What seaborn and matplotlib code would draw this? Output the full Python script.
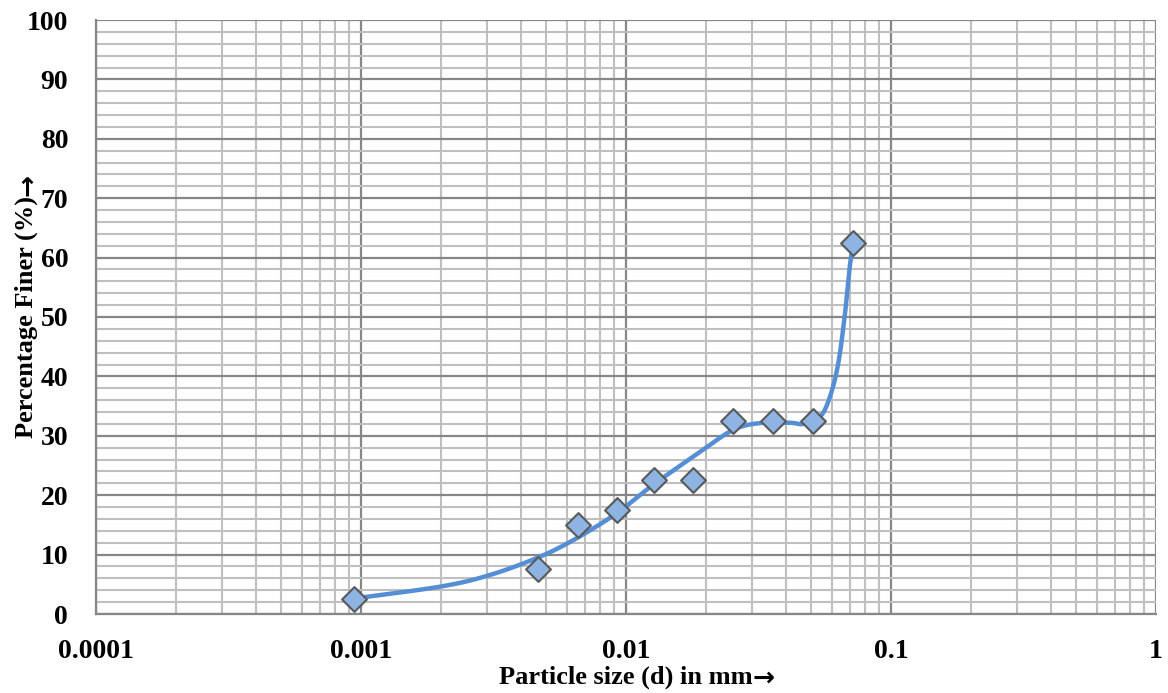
import numpy as np
import matplotlib
matplotlib.use("Agg")
import matplotlib.pyplot as plt
import seaborn as sns
import pandas as pd
from matplotlib.ticker import LogLocator, FixedLocator, FixedFormatter, MultipleLocator, NullFormatter

# ---- data ----
particle_size_mm = [0.00094, 0.00466, 0.00659, 0.00925, 0.01277, 0.0179, 0.0254, 0.0359, 0.0508, 0.0720]
percent_finer = [2.5, 7.5, 15.0, 17.5, 22.5, 22.5, 32.5, 32.5, 32.5, 62.5]

# smoothed gradation curve, points traced along the drawn curve of the reference
curve_size_mm = [0.000949, 0.001987, 0.003067, 0.004736, 0.006533, 0.009247, 0.01264, 0.01902,
                 0.02533, 0.03203, 0.04158, 0.04655, 0.05397, 0.05886, 0.06325, 0.06706,
                 0.06961, 0.0720]
curve_finer = [2.64, 4.60, 6.57, 9.65, 12.79, 17.0, 21.72, 27.27,
               30.98, 32.15, 32.2, 31.99, 33.2, 36.6, 42.2, 50.6,
               57.9, 62.5]

x_tick_values = [0.0001, 0.001, 0.01, 0.1, 1]
x_tick_labels = ["0.0001", "0.001", "0.01", "0.1", "1"]
y_tick_values = [0, 10, 20, 30, 40, 50, 60, 70, 80, 90, 100]

df = pd.DataFrame({"d": particle_size_mm, "finer": percent_finer})

sns.set_theme(style="white")
plt.rcParams["font.family"] = ["Liberation Serif", "DejaVu Serif"]
plt.rcParams["font.weight"] = "bold"

fig = plt.figure(figsize=(11.68, 6.93), dpi=100)
ax = fig.add_axes([96 / 1168, 79 / 693, 1060 / 1168, 594 / 693])


def smooth_path(xs, ys, n=30, sx=265.0, sy=5.94):
    """Smoothed line (Catmull-Rom Bezier) drawn in display-like space (log x)."""
    lx = np.log10(np.asarray(xs, float)) * sx
    y = np.asarray(ys, float) * sy
    P = np.column_stack([lx, y])
    out = []
    m = len(P)
    for i in range(m - 1):
        p0 = P[i - 1] if i > 0 else P[i]
        p1 = P[i]
        p2 = P[i + 1]
        p3 = P[i + 2] if i + 2 < m else P[i + 1]
        c1 = p1 + (p2 - p0) / 6.0
        c2 = p2 - (p3 - p1) / 6.0
        t = np.linspace(0, 1, n)[:, None]
        seg = ((1 - t) ** 3) * p1 + 3 * ((1 - t) ** 2) * t * c1 + 3 * (1 - t) * t ** 2 * c2 + t ** 3 * p2
        out.append(seg if i == 0 else seg[1:])
    pts = np.vstack(out)
    return 10 ** (pts[:, 0] / sx), pts[:, 1] / sy


cx, cy = smooth_path(curve_size_mm, curve_finer)

ax.set_xscale("log")
ax.set_xlim(0.0001, 1)
ax.set_ylim(0, 100)

# grid
ax.xaxis.set_major_locator(FixedLocator(x_tick_values))
ax.xaxis.set_major_formatter(FixedFormatter(x_tick_labels))
ax.xaxis.set_minor_locator(LogLocator(base=10, subs=np.arange(2, 10)))
ax.xaxis.set_minor_formatter(NullFormatter())
ax.yaxis.set_major_locator(FixedLocator(y_tick_values))
ax.yaxis.set_minor_locator(MultipleLocator(2))
ax.grid(which="minor", color="#bfbfbf", linewidth=1.5, zorder=0)
ax.grid(which="major", color="#878787", linewidth=1.6, zorder=0)
ax.set_axisbelow(True)

for s in ["top", "right"]:
    ax.spines[s].set_visible(False)
for s in ["left", "bottom"]:
    ax.spines[s].set_color("#878787")
    ax.spines[s].set_linewidth(1.6)

ax.plot(cx, cy, color="#558ED5", linewidth=3.2, zorder=3, solid_capstyle="round")
sns.scatterplot(data=df, x="d", y="finer", marker="D", s=160, color="#8DB4E2",
                edgecolor="#595959", linewidth=1.5, zorder=4, ax=ax, legend=False)

ax.tick_params(axis="both", which="both", length=0)
ax.tick_params(axis="x", pad=18, labelsize=20)
ax.tick_params(axis="y", pad=20, labelsize=20)
for lab in ax.get_xticklabels() + ax.get_yticklabels():
    lab.set_fontweight("bold")
    lab.set_color("black")

ax.set_xlabel("Particle size (d) in mm", fontsize=19, fontweight="bold", labelpad=1, color="black")
ax.set_ylabel("Percentage Finer (%)", fontsize=19, fontweight="bold", labelpad=-8, color="black")

# bold arrows that follow the axis titles
ax.annotate("\u2192", xy=(1.0, 0.42), xycoords=ax.xaxis.label, ha="left", va="center",
            fontsize=19, fontweight="bold", family="DejaVu Sans", color="black")
ax.annotate("\u2192", xy=(0.58, 1.0), xycoords=ax.yaxis.label, ha="center", va="bottom",
            rotation=90, fontsize=19, fontweight="bold", family="DejaVu Sans", color="black")

fig.savefig("out.png", dpi=100, facecolor="white")
